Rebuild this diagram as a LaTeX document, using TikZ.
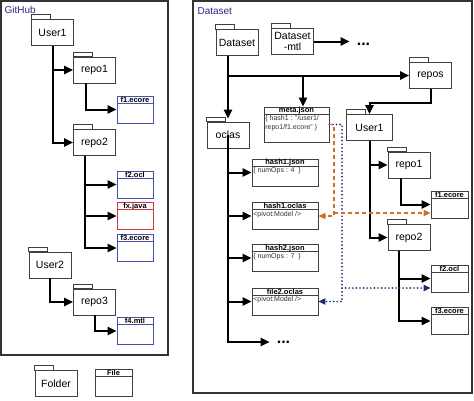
\documentclass[tikz,border=0pt]{standalone}
\usepackage{fontspec}
\setmainfont{Liberation Sans}
\usetikzlibrary{arrows.meta}

\definecolor{labelblue}{RGB}{40,40,130}
\definecolor{fileblue}{RGB}{70,80,175}
\definecolor{filered}{RGB}{205,60,60}
\definecolor{linkorange}{RGB}{210,110,40}
\definecolor{linknavy}{RGB}{30,40,120}

\tikzset{
	folderbox/.style={draw=black!75, line width=0.7pt, fill=white, minimum width=42pt, minimum height=26pt, inner sep=1pt, font=\fontsize{10.5}{11.5}\selectfont},
	filebox/.style={draw=black!75, line width=0.7pt, fill=white, minimum height=27pt, inner sep=0pt},
	filehead/.style={inner sep=0pt, minimum height=7.5pt, font=\fontsize{7.5}{8}\selectfont\bfseries},
	filetext/.style={inner sep=1.5pt, align=left, font=\fontsize{7}{9}\selectfont, text=black!80},
	dots/.style={inner xsep=7pt, inner ysep=0pt, font=\fontsize{16}{16}\selectfont\bfseries},
	link/.style={line width=2pt, -{Triangle[length=9pt,width=8pt]}},
	orangelink/.style={linkorange, line width=1.5pt, dash pattern=on 4pt off 3pt, -{Triangle[length=7pt,width=6pt]}},
	navylink/.style={linknavy, line width=1.9pt, dash pattern=on 0pt off 3.6pt, line cap=round, -{Triangle[length=7pt,width=6pt]}},
	frame/.style={draw=black!80, line width=1.3pt},
	title/.style={anchor=west, text=labelblue, font=\fontsize{10}{12}\selectfont},
}

% folder: [options]{name}{x}{y}{text}
\newcommand{\folder}[5][]{
	\node[folderbox,#1] (#2) at (#3,#4) {#5};
	\draw[black!75, line width=0.7pt, fill=white] (#2.north west) rectangle ++(19pt,4.5pt);
}

% file: [options]{name}{x}{y}{width}{header}{content}
\newcommand{\datafile}[7][]{
	\node[filebox, minimum width=#5, #1] (#2) at (#3,#4) {};
	\node[filehead, anchor=north] (#2-head) at (#2.north) {#6};
	\draw[black!75, line width=0.7pt, #1] ([yshift=-7.5pt]#2.north west) -- ([yshift=-7.5pt]#2.north east);
	\node[filetext, anchor=north west] (#2-text) at ([yshift=-7.5pt]#2.north west) {#7};
}

\begin{document}
\begin{tikzpicture}[x=1pt,y=-1pt]
\useasboundingbox (0,0) rectangle (474,400);

\draw[frame] (1,1) rectangle (168,355);
\draw[frame] (193,1) rectangle (472,393);
\node[title] (githubtitle) at (1,10) {GitHub};
\node[title] (datasettitle) at (194,11) {Dataset};

% GitHub side
\folder{user1}{52.5}{32.5}{User1}
\folder{repo1}{94.5}{70}{repo1}
\folder{repo2}{94.5}{142.5}{repo2}
\folder{user2}{50}{265}{User2}
\folder{repo3}{94.5}{302}{repo3}
\datafile[draw=fileblue]{f1}{135}{109.5}{36pt}{f1.ecore}{}
\datafile[draw=fileblue]{f2}{135}{184.5}{36pt}{f2.ocl}{}
\datafile[draw=filered]{fx}{135}{216}{36pt}{fx.java}{}
\datafile[draw=fileblue]{f3}{135}{248}{36pt}{f3.ecore}{}
\datafile[draw=fileblue]{f4}{135}{331}{36pt}{f4.mtl}{}

\draw[link] (user1.south) |- (repo1.west);
\draw[link] (user1.south) |- (repo2.west);
\draw[link] ([xshift=-8.5pt]repo1.south) |- (f1.west);
\draw[link] ([xshift=-10pt]repo2.south) |- (f2.west);
\draw[link] ([xshift=-10pt]repo2.south) |- (fx.west);
\draw[link] ([xshift=-10pt]repo2.south) |- (f3.west);
\draw[link] (user2.south) |- (repo3.west);
\draw[link] (repo3.south) |- (f4.west);

% legend
\folder{legendfolder}{56}{383.5}{Folder}
\datafile{legendfile}{113.5}{383}{37pt}{File}{}

% Dataset side
\folder{dataset}{237}{42.5}{Dataset}
\folder[align=center]{datasetmtl}{292.5}{41.5}{Dataset\\-mtl}
\node[dots] (dotsmtl) at (363.5,44) {...};
\folder{repos}{430.5}{75.5}{repos}
\folder{oclas}{228}{135}{oclas}
\datafile[minimum height=35pt]{meta}{296.5}{124.5}{65pt}{meta.json}{\{ hash1 : "/user1/\\repo1/f1.ecore" \}}

\folder[minimum width=46pt]{user1d}{369.5}{127.5}{User1}
\folder{repo1d}{409}{165}{repo1}
\folder{repo2d}{409}{237.5}{repo2}
\datafile{f1d}{449.5}{204.5}{37pt}{f1.ecore}{}
\datafile{f2d}{449.5}{278.5}{37pt}{f2.ocl}{}
\datafile{f3d}{449.5}{321}{37pt}{f3.ecore}{}

\datafile{h1j}{285}{172.5}{66pt}{hash1.json}{\{ numOps : 4 \ \}}
\datafile{h1o}{285}{216}{66pt}{hash1.oclas}{<pivot:Model />}
\datafile{h2j}{285}{258}{66pt}{hash2.json}{\{ numOps : 7 \ \}}
\datafile{f2o}{285}{301.5}{66pt}{file2.oclas}{<pivot:Model />}
\node[dots] (dotsoclas) at (283.5,342) {...};

\draw[link] (dataset.south -| oclas.north) -- ([yshift=3pt]oclas.north);
\draw[link] (dataset.south -| oclas.north) |- (repos.west);
\draw[link] ([xshift=6.5pt]meta.north |- repos.west) -- ([xshift=6.5pt]meta.north);
\draw[link] (datasetmtl.east) -- (datasetmtl.east -| dotsmtl.west);
\draw[link] (repos.south) -- ++(0,14) -| (user1d.north);

\draw[link] (user1d.south) |- (repo1d.west);
\draw[link] (user1d.south) |- (repo2d.west);
\draw[link] ([xshift=-8pt]repo1d.south) |- (f1d.west);
\draw[link] ([xshift=-10pt]repo2d.south) |- (f2d.west);
\draw[link] ([xshift=-10pt]repo2d.south) |- (f3d.west);

\draw[link] (oclas.center) |- (h1j.west);
\draw[link] (oclas.center) |- (h1o.west);
\draw[link] (oclas.center) |- (h2j.west);
\draw[link] (oclas.center) |- (f2o.west);
\draw[link] (oclas.center) |- (dotsoclas.west);

% references from meta.json
\coordinate (navyturn) at (342,288);
\coordinate (orangeturn) at (334,213);
\draw[navylink] (meta.east) -| (navyturn) |- (f2o.east);
\draw[navylink] (navyturn) -- (navyturn -| f2d.west);
\draw[orangelink] (meta.east) -| (orangeturn) |- (h1o.east);
\draw[orangelink] (orangeturn) -- (orangeturn -| f1d.west);
\end{tikzpicture}
\end{document}
